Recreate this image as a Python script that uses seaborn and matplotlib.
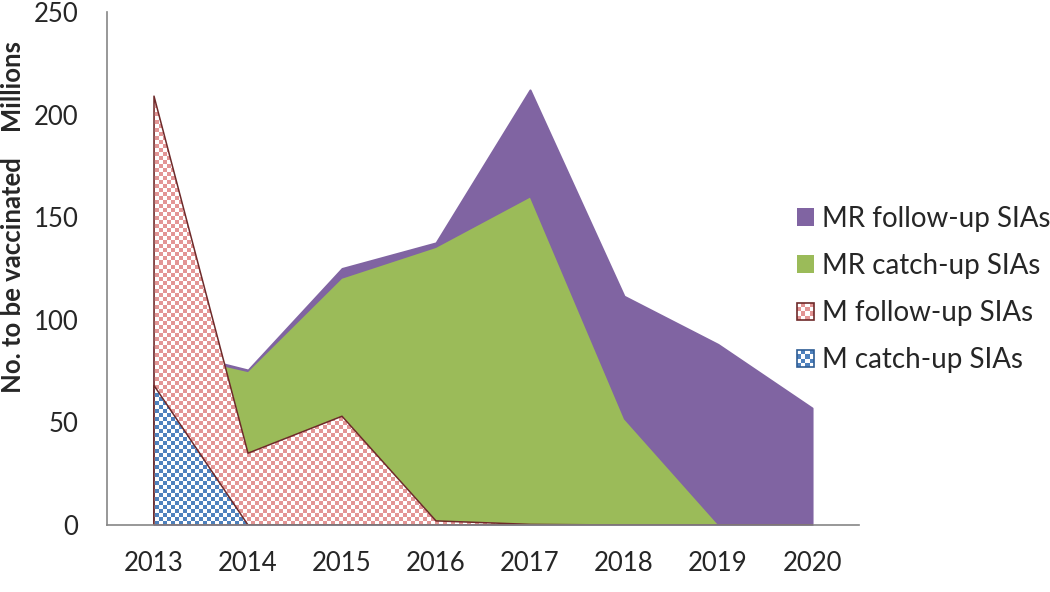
import numpy as np
import matplotlib
matplotlib.use("Agg")
import matplotlib.pyplot as plt
import seaborn as sns
from matplotlib.colors import to_rgb
from matplotlib.patches import Patch, Rectangle
from matplotlib.legend_handler import HandlerBase

# values (millions), each series drawn from zero, back to front
years = ['2013', '2014', '2015', '2016', '2017', '2018', '2019', '2020']
mr_followup = [87, 75.5, 125, 137.5, 212, 111.5, 88, 57]
mr_catchup = [85, 74.5, 120, 135, 159.5, 51.5, 0, 0]
m_followup = [209, 35, 53, 2, 0.3, 0, 0, 0]
m_catchup = [68, 0, 0, 0, 0, 0, 0, 0]
labels = ['MR follow-up SIAs', 'MR catch-up SIAs', 'M follow-up SIAs', 'M catch-up SIAs']

purple = '#8064a2'
green = '#9bbb59'
pink = '#e39595'
blue = '#4f81bd'
maroon = '#6e2a2a'
grey = '#868686'

sns.set_style('white')
plt.rcParams['font.family'] = ['Lato', 'DejaVu Sans']

fig = plt.figure(figsize=(10.5, 5.92), dpi=100)
ax = fig.add_axes([107 / 1050, 1 - 525 / 592, 752 / 1050, 513 / 592])

x = np.arange(len(years))
ymax = 250


def checker(color, nx=188, ny=128):
    arr = np.ones((ny, nx, 3))
    mask = np.add.outer(np.arange(ny), np.arange(nx)) % 2 == 0
    arr[mask] = to_rgb(color)
    return arr


def pattern_area(vals, color, edge, z):
    base = ax.fill_between(x, 0, vals, facecolor='white', edgecolor='none', zorder=z)
    im = ax.imshow(checker(color), extent=(-0.5, len(years) - 0.5, 0, ymax),
                   origin='lower', aspect='auto', interpolation='nearest', zorder=z + 0.1)
    im.set_clip_path(base.get_paths()[0], ax.transData)
    ax.fill_between(x, 0, vals, facecolor='none', edgecolor=edge, lw=1.1, zorder=z + 0.2)


ax.fill_between(x, 0, mr_followup, facecolor=purple, edgecolor=purple, lw=1.5, zorder=1)
ax.fill_between(x, 0, mr_catchup, facecolor=green, edgecolor='none', zorder=2)
pattern_area(m_followup, pink, maroon, 3)
pattern_area(m_catchup, blue, maroon, 4)

ax.set_xlim(-0.5, len(years) - 0.5)
ax.set_ylim(0, ymax)
ax.set_yticks(range(0, 251, 50))
ax.set_xticks(np.arange(len(years) + 1) - 0.5)
ax.set_xticklabels([])
ax.set_xticks(x, minor=True)
ax.set_xticklabels(years, minor=True)
ax.tick_params(axis='x', which='major', direction='out', length=8, width=1, color=grey)
ax.tick_params(axis='x', which='minor', length=0, pad=19, labelsize=18.5)
ax.tick_params(axis='y', direction='out', length=6.5, width=1, color=grey, pad=14, labelsize=18.5)
sns.despine(ax=ax)
for s in ['left', 'bottom']:
    ax.spines[s].set_color(grey)
    ax.spines[s].set_linewidth(1.2)
    ax.spines[s].set_zorder(10)

fig.text(13 / 1050, 1 - 393 / 592, 'No. to be vaccinated    Millions', rotation=90,
         ha='center', va='bottom', fontsize=18.5, fontweight='bold')


class CheckerHandler(HandlerBase):
    def __init__(self, color, edge):
        super().__init__()
        self.color = color
        self.edge = edge

    def create_artists(self, legend, orig_handle, xdescent, ydescent, width, height, fontsize, trans):
        arts = [Rectangle((-xdescent, -ydescent), width, height, facecolor='white',
                          edgecolor='none', transform=trans)]
        n = 4
        w, h = width / n, height / n
        for i in range(n):
            for j in range(n):
                if (i + j) % 2 == 0:
                    arts.append(Rectangle((-xdescent + i * w, -ydescent + j * h), w, h,
                                          facecolor=self.color, edgecolor='none', transform=trans))
        arts.append(Rectangle((-xdescent, -ydescent), width, height, facecolor='none',
                              edgecolor=self.edge, lw=1.2, transform=trans))
        return arts


h_mrf = Patch(facecolor=purple, edgecolor='none')
h_mrc = Patch(facecolor=green, edgecolor='none')
h_mf = Patch()
h_mc = Patch()
leg = fig.legend([h_mrf, h_mrc, h_mf, h_mc], labels,
                 handler_map={h_mf: CheckerHandler(pink, maroon), h_mc: CheckerHandler(blue, '#2f5d95')},
                 loc='upper left', bbox_to_anchor=(797 / 1050, 1 - 206 / 592),
                 bbox_transform=fig.transFigure, frameon=False, fontsize=20,
                 handlelength=0.61, handleheight=0.61, handletextpad=0.28,
                 labelspacing=0.76, borderpad=0, borderaxespad=0)

fig.savefig('out.png', dpi=100)
